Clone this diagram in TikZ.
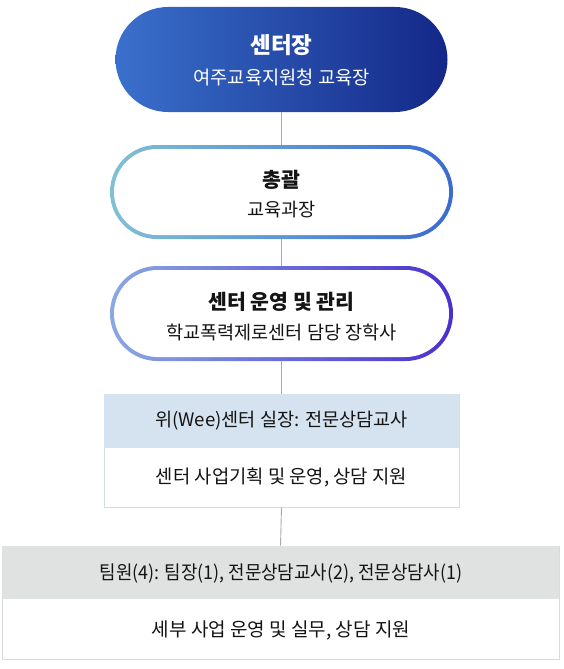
\documentclass[tikz,border=0pt]{standalone}
\usepackage{fontspec}
\setmainfont{Noto Sans CJK KR}
\usetikzlibrary{shapes.misc}
\definecolor{topL}{RGB}{58,112,204}
\definecolor{topR}{RGB}{20,40,136}
\definecolor{twoL}{RGB}{130,192,212}
\definecolor{twoR}{RGB}{58,106,208}
\definecolor{thrL}{RGB}{138,168,226}
\definecolor{thrR}{RGB}{74,48,204}
\definecolor{hdrBlue}{RGB}{213,226,239}
\definecolor{brdBlue}{RGB}{208,220,232}
\definecolor{hdrGray}{RGB}{224,226,226}
\definecolor{brdGray}{RGB}{218,218,218}
\definecolor{lineGray}{RGB}{170,170,172}
\definecolor{txt}{RGB}{20,20,20}
\tikzset{
  pill/.style={rounded rectangle, inner sep=0pt, draw=none},
  inpill/.style={rounded rectangle, inner sep=0pt, fill=white, draw=none},
  band/.style={rectangle, inner sep=0pt, draw=none},
  conn/.style={draw=lineGray, line width=0.9pt},
  lbl/.style={inner sep=0pt, text=txt, anchor=center},
}
\begin{document}
\begin{tikzpicture}[x=1pt,y=-1pt]
\useasboundingbox (0,0) rectangle (563,669);
\node[pill, minimum width=332pt, minimum height=105pt, left color=topL, right color=topR] (b1) at (281.5,59.5) {};
\node[pill, minimum width=343pt, minimum height=94pt, left color=twoL, right color=twoR] (b2) at (281.5,192) {};
\node[pill, minimum width=343pt, minimum height=95pt, left color=thrL, right color=thrR] (b3) at (281.5,313.5) {};
\node[band, minimum width=355pt, minimum height=113pt, draw=brdBlue, line width=0.8pt, fill=white] (b4) at (281.5,450.5) {};
\node[band, minimum width=557pt, minimum height=113pt, draw=brdGray, line width=0.8pt, fill=white] (b5) at (280.5,602.5) {};
\draw[conn] (b1.south) -- (b2.north);
\draw[conn] (b2.south) -- (b3.north);
\draw[conn] (b3.south) -- (b4.north);
\draw[conn] (b4.south) -- (b5.north);
\node[inpill, minimum width=335pt, minimum height=86pt] (b2in) at (281.5,192) {};
\node[inpill, minimum width=335pt, minimum height=87pt] (b3in) at (281.5,313.5) {};
\node[band, minimum width=354.2pt, minimum height=53.6pt, fill=hdrBlue] (h4) at (281.5,421) {};
\node[band, minimum width=556.2pt, minimum height=53pt, fill=hdrGray] (h5) at (280.5,572.5) {};
% texts
\node[lbl, text=white] (t1a) at (281.5,45) {\fontsize{22.5}{26}\selectfont\bfseries 센터장};
\node[lbl, text=white] (t1b) at (281.5,77) {\fontsize{18.7}{22}\selectfont 여주교육지원청 교육장};
\node[lbl] (t2a) at (281.5,180) {\fontsize{20.5}{24}\selectfont\bfseries 총괄};
\node[lbl] (t2b) at (281.5,210) {\fontsize{18.6}{22}\selectfont 교육과장};
\node[lbl] (t3a) at (281.5,302) {\fontsize{20.5}{24}\selectfont\bfseries 센터 운영 및 관리};
\node[lbl] (t3b) at (281.5,333) {\fontsize{18.6}{22}\selectfont 학교폭력제로센터 담당 장학사};
\node[lbl] (t4a) at (281.5,421) {\fontsize{18.6}{22}\selectfont 위(Wee)센터 실장: 전문상담교사};
\node[lbl] (t4b) at (281.5,477) {\fontsize{18.8}{22}\selectfont 센터 사업기획 및 운영, 상담 지원};
\node[lbl] (t5a) at (281,573) {\scalebox{0.94}[1]{\fontsize{19}{22}\selectfont 팀원(4): 팀장(1), 전문상담교사(2), 전문상담사(1)}};
\node[lbl] (t5b) at (281,630) {\fontsize{19}{22}\selectfont 세부 사업 운영 및 실무, 상담 지원};
\end{tikzpicture}
\end{document}
